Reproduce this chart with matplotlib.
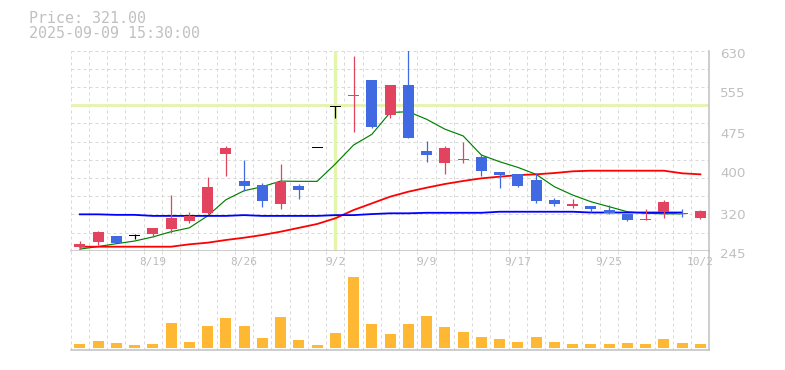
import matplotlib
matplotlib.use('Agg')
import matplotlib.pyplot as plt
import matplotlib.transforms as mtransforms
import numpy as np

# ---------------- data ----------------
dates = ['8/13', '8/14', '8/15', '8/18', '8/19', '8/20', '8/21', '8/22', '8/25', '8/26',
         '8/27', '8/28', '8/29', '9/1', '9/2', '9/3', '9/4', '9/5', '9/8', '9/9',
         '9/10', '9/11', '9/12', '9/16', '9/17', '9/18', '9/19', '9/22', '9/24', '9/25',
         '9/26', '9/29', '9/30', '10/1', '10/2']
opens = [253, 262, 273, 274, 278, 287, 302, 318, 431, 379,
         371, 334, 370, 444, 523, 543, 574, 507, 564, 437,
         414, 419, 426, 396, 393, 381, 343, 332, 331, 323,
         316, 305, 320, 318, 308]
highs = [264, 283, 273, 278, 289, 352, 319, 386, 447, 420,
         375, 412, 373, 444, 523, 619, 574, 564, 640, 456,
         447, 454, 432, 396, 393, 394, 346, 344, 331, 333,
         316, 325, 342, 325, 323]
lows = [248, 256, 259, 267, 272, 280, 299, 316, 389, 359,
        330, 326, 344, 444, 501, 474, 481, 501, 462, 416,
        393, 414, 389, 366, 368, 336, 332, 328, 319, 316,
        302, 305, 307, 309, 306]
closes = [258, 281, 259, 274, 289, 308, 312, 368, 443, 370,
          341, 377, 362, 444, 523, 545, 483, 564, 462, 430,
          443, 422, 399, 391, 370, 341, 334, 335, 326, 318,
          304, 306, 339, 317, 322]
volumes = [40, 70, 50, 30, 40, 250, 60, 220, 300, 220,
           100, 310, 80, 30, 150, 710, 240, 140, 240, 320,
           210, 160, 110, 90, 60, 110, 60, 40, 40, 40,
           50, 40, 90, 50, 40]
ma_short = [248, 253, 258.5, 263.6, 271.5, 281.6, 289, 312, 343, 360.5,
            368.2, 379, 378.5, 378.5, 412, 448.4, 469, 511, 512.6, 498,
            479, 466, 429.2, 416.3, 405.4, 392, 368.2, 352.2, 339.3, 329.7,
            320, 317, 316, 316]
ma_mid = [252.7, 252.7, 252.7, 252.7, 252.7, 252.7, 257.3, 260.4, 265.6, 270,
          275.2, 281.6, 289, 296.4, 307.4, 323.3, 336.1, 349, 358.6, 366.3,
          373.4, 379.2, 384.3, 387.5, 390.5, 392, 394.5, 397.8, 399, 399,
          399, 399, 399, 394, 392]
ma_long = [315, 315, 314, 314, 312, 312, 312, 312, 312, 313.5,
           312, 312, 312, 312, 313.5, 313.5, 315.5, 317, 317, 318,
           318, 318, 318, 320, 320, 320, 320, 320, 318.5, 318.5,
           318.5, 318.5, 318.5, 318.5]
price_ticks = [245, 320, 400, 475, 555, 630]
date_tick_idx = [4, 9, 14, 19, 24, 29, 34]
cross_idx = 14
cross_price = 525

# ---------------- styles ----------------
UP = '#e2435f'
DOWN = '#4169e1'
DOJI = '#000000'
VOLC = '#ffb833'
GRID = '#d9d9d9'
AXC = '#c0c0c0'
TXT = '#c0c0c0'
CROSS = '#e3f4ad'

W, H = 785, 370
fig = plt.figure(figsize=(W / 100, H / 100), dpi=100)
left_px, right_px = 70.7, 709.5
top_px, mid_px, bot_px = 50.7, 250.7, 350.0
ax = fig.add_axes([left_px / W, 1 - mid_px / H, (right_px - left_px) / W, (mid_px - top_px) / H])
axv = fig.add_axes([left_px / W, 1 - bot_px / H, (right_px - left_px) / W, (bot_px - mid_px) / H],
                   sharex=ax)

n = len(dates)
x = np.arange(n)
ymin, ymax = 245, 630
ax.set_xlim(-0.5, n - 0.5)
ax.set_ylim(ymin, ymax)
axv.set_ylim(-20, 973)

for a in (ax, axv):
    a.set_facecolor('white')
    for s in ('top', 'left'):
        a.spines[s].set_visible(False)
    a.spines['bottom'].set_color(AXC)
    a.spines['right'].set_color(AXC)
    a.spines['bottom'].set_linewidth(1.1)
    a.spines['right'].set_linewidth(1.1)
    for k in range(n + 1):
        if k < n:
            a.axvline(k - 0.5, color=GRID, lw=0.72, ls=(0, (3, 3)), zorder=0)

for p in np.arange(ymin + 35, ymax + 1, 35):
    ax.axhline(p, color=GRID, lw=0.72, ls=(0, (3, 3)), zorder=0)

# crosshair
ax.axvline(cross_idx, ymin=0.01, ymax=0.995, color=CROSS, lw=2.4, zorder=1)
ax.axhline(cross_price, color=CROSS, lw=2.0, zorder=1)

# moving averages
ax.plot(np.arange(len(ma_short)), ma_short, color='#008000', lw=0.85, zorder=2)
ax.plot(np.arange(len(ma_mid)), ma_mid, color='#ff0000', lw=1.3, zorder=2.1)
ax.plot(np.arange(len(ma_long)), ma_long, color='#0000ff', lw=1.3, zorder=2.2)

# candles
o = np.array(opens, float); c = np.array(closes, float)
hi = np.array(highs, float); lo = np.array(lows, float)
cols = [UP if cc > oo else (DOWN if cc < oo else DOJI) for oo, cc in zip(o, c)]
ax.vlines(x, lo, hi, colors=cols, lw=0.9, zorder=3)
body_h = np.maximum(np.abs(c - o), 1.6)
ax.bar(x, body_h, bottom=np.minimum(o, c) - np.where(np.abs(c - o) < 1.6, 0.8, 0),
       width=0.6, color=cols, lw=0, zorder=4)

# volume
axv.bar(x, volumes, width=0.6, color=VOLC, lw=0, zorder=3)

# axes ticks
ax.yaxis.tick_right()
ax.set_yticks(price_ticks)
ax.set_yticklabels([str(t) for t in price_ticks])
ax.tick_params(axis='y', length=0, pad=7.5, labelsize=9.6, labelcolor=TXT)
off = mtransforms.ScaledTranslation(0, -2 / 100, fig.dpi_scale_trans)
for lab in ax.get_yticklabels():
    lab.set_transform(lab.get_transform() + off)
    lab.set_fontfamily('DejaVu Sans')
ax.tick_params(axis='x', length=0, labelbottom=False)
axv.tick_params(axis='both', length=0, labelbottom=False, labelleft=False)
axv.set_yticks([])

trans = mtransforms.blended_transform_factory(axv.transData, axv.transAxes)
for i in date_tick_idx:
    axv.text(i, (bot_px - 261.5) / (bot_px - mid_px), dates[i], transform=trans,
             ha='center', va='center', fontsize=8, color='#bdbdbd',
             family='DejaVu Sans Mono', zorder=5)

fig.text(29.3 / W, 1 - 22.7 / H, 'Price: 321.00', family='DejaVu Sans Mono',
         fontsize=10.8, color=TXT, va='baseline', ha='left')
fig.text(29.3 / W, 1 - 37.7 / H, '2025-09-09 15:30:00', family='DejaVu Sans Mono',
         fontsize=10.8, color=TXT, va='baseline', ha='left')

fig.savefig('out.png', dpi=100)
